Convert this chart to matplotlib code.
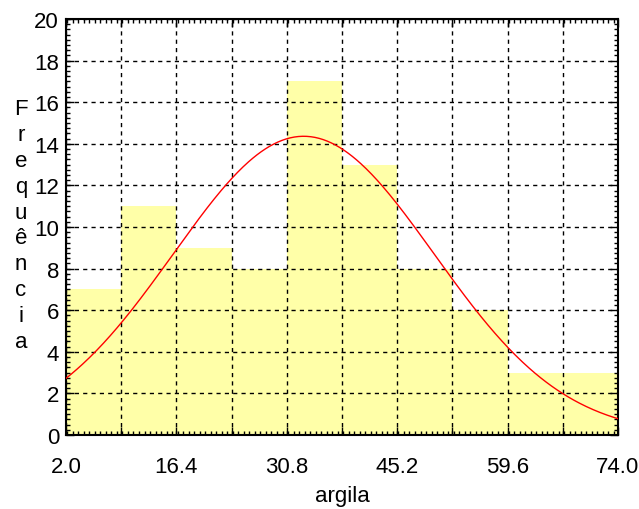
import numpy as np
import matplotlib
matplotlib.use("Agg")
import matplotlib.pyplot as plt
from matplotlib.ticker import MultipleLocator, FixedLocator

# ── Data ──────────────────────────────────────────────────────────────────────
bin_edges = [2.0, 9.2, 16.4, 23.6, 30.8, 38.0, 45.2, 52.4, 59.6, 66.8, 74.0]
freq = [7, 11, 9, 8, 17, 13, 8, 6, 3, 3]
x_labels = [2.0, 16.4, 30.8, 45.2, 59.6, 74.0]

# parâmetros da normal ajustada
media = 33.0
desvio = 17.0

plt.rcParams["font.family"] = ["Liberation Sans", "DejaVu Sans"]

fig = plt.figure(figsize=(6.39, 5.10), dpi=100)
ax = fig.add_axes([66 / 639, 1 - 436 / 510, (618 - 66) / 639, (436 - 20) / 510])

larguras = np.diff(bin_edges)
ax.bar(bin_edges[:-1], freq, width=larguras, align="edge",
       color="#FFFFA8", edgecolor="none", zorder=1)

n = sum(freq)
xs = np.linspace(bin_edges[0], bin_edges[-1], 400)
ys = n * larguras[0] * np.exp(-0.5 * ((xs - media) / desvio) ** 2) / (desvio * np.sqrt(2 * np.pi))
ax.plot(xs, ys, color="#FF0000", linewidth=1.0, zorder=3)

ax.set_xlim(bin_edges[0], bin_edges[-1])
ax.set_ylim(0, 20)

ax.xaxis.set_major_locator(FixedLocator(bin_edges))
ax.set_xticklabels([f"{v:.1f}" if v in x_labels else "" for v in bin_edges])
ax.xaxis.set_minor_locator(MultipleLocator(0.72))
ax.yaxis.set_major_locator(MultipleLocator(2))
ax.yaxis.set_minor_locator(MultipleLocator(0.25))

ax.tick_params(which="both", direction="in", top=True, right=True, width=1.0)
ax.tick_params(which="major", length=6, labelsize=16)
ax.tick_params(which="minor", length=3)
ax.tick_params(axis="x", which="major", pad=15)
ax.tick_params(axis="y", which="major", pad=5)

ax.grid(True, which="major", color="black", linestyle=(0, (3, 3)), linewidth=1.0, zorder=2)
ax.set_axisbelow(False)
for s in ax.spines.values():
    s.set_linewidth(1.5)

ax.set_xlabel("argila", fontsize=16, labelpad=6)
fig.text(21 / 639, 1 - 226 / 510, "\n".join("Frequência"), fontsize=16,
         ha="center", va="center", linespacing=1.31)

fig.savefig("out.png", dpi=100)
